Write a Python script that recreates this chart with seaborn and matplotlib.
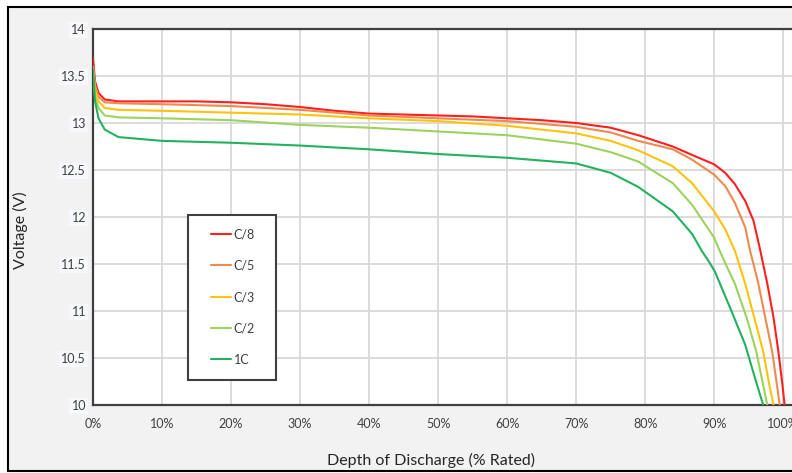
import matplotlib
matplotlib.use('Agg')
import matplotlib.pyplot as plt
import seaborn as sns
import pandas as pd
from matplotlib.patches import Rectangle

# ---- data ----
rates = ['C/8', 'C/5', 'C/3', 'C/2', '1C']
colors = ['#ff1f1f', '#ef8a4f', '#ffc20e', '#9bd35c', '#22b25f']

dod_c8 = [0, 0.3, 0.8, 1.7, 3.7, 10, 15, 20, 25, 30, 35, 40, 45, 50, 55, 60, 65, 70, 75, 79, 84, 86.8, 90, 91.6, 93, 94.5, 95.7, 96.6, 97.7, 98.6, 99.3, 99.9, 100.2]
v_c8 = [13.69, 13.44, 13.32, 13.25, 13.23, 13.23, 13.23, 13.22, 13.20, 13.17, 13.13, 13.10, 13.09, 13.08, 13.07, 13.05, 13.03, 13.00, 12.95, 12.87, 12.75, 12.66, 12.56, 12.47, 12.35, 12.17, 11.96, 11.67, 11.29, 10.93, 10.57, 10.21, 10.0]

dod_c5 = [0, 0.3, 0.8, 1.7, 3.7, 10, 20, 30, 40, 50, 60, 70, 75, 79, 84, 86.8, 90, 91.6, 93, 94.5, 95.2, 95.7, 96.4, 97.4, 98.4, 99.1, 99.5]
v_c5 = [13.60, 13.40, 13.28, 13.22, 13.21, 13.20, 13.18, 13.14, 13.08, 13.05, 13.02, 12.96, 12.90, 12.81, 12.72, 12.61, 12.45, 12.33, 12.15, 11.89, 11.64, 11.50, 11.29, 10.93, 10.57, 10.21, 10.0]

dod_c3 = [0, 0.3, 0.8, 1.7, 3.7, 10, 20, 30, 40, 50, 60, 70, 75, 79, 84, 86.8, 90, 91.6, 93, 94.5, 95.8, 97.1, 98.0, 98.6]
v_c3 = [13.58, 13.35, 13.23, 13.16, 13.14, 13.13, 13.11, 13.09, 13.05, 13.02, 12.97, 12.89, 12.81, 12.71, 12.54, 12.36, 12.06, 11.87, 11.64, 11.29, 10.93, 10.57, 10.21, 10.0]

dod_c2 = [0, 0.3, 0.8, 1.7, 3.7, 10, 20, 30, 40, 50, 60, 70, 75, 79, 84, 86.8, 90, 90.8, 91.6, 93, 94.7, 96.1, 97.1, 97.7]
v_c2 = [13.55, 13.28, 13.16, 13.08, 13.06, 13.05, 13.03, 12.98, 12.95, 12.91, 12.87, 12.78, 12.69, 12.59, 12.36, 12.13, 11.78, 11.64, 11.51, 11.29, 10.93, 10.57, 10.21, 10.0]

dod_1c = [0, 0.3, 0.8, 1.7, 3.7, 10, 20, 30, 40, 50, 60, 65, 70, 75, 79, 84, 86.8, 88.2, 89.2, 90.1, 92.5, 94.5, 95.9, 97.1]
v_1c = [13.57, 13.23, 13.05, 12.93, 12.85, 12.81, 12.79, 12.76, 12.72, 12.67, 12.63, 12.60, 12.57, 12.47, 12.32, 12.06, 11.82, 11.64, 11.53, 11.42, 11.00, 10.64, 10.29, 10.0]

xticks = [0, 10, 20, 30, 40, 50, 60, 70, 80, 90, 100]
xticklabels = ['0%', '10%', '20%', '30%', '40%', '50%', '60%', '70%', '80%', '90%', '100%']
yticks = [10, 10.5, 11, 11.5, 12, 12.5, 13, 13.5, 14]
yticklabels = ['10', '10.5', '11', '11.5', '12', '12.5', '13', '13.5', '14']

series = {'C/8': (dod_c8, v_c8), 'C/5': (dod_c5, v_c5), 'C/3': (dod_c3, v_c3),
          'C/2': (dod_c2, v_c2), '1C': (dod_1c, v_1c)}
rows = []
for r in rates:
    xs, ys = series[r]
    for x, y in zip(xs, ys):
        rows.append({'dod': x, 'v': y, 'rate': r})
df = pd.DataFrame(rows)

# ---- figure ----
sns.set_theme(style='white')
plt.rcParams['font.family'] = ['Lato', 'DejaVu Sans']

W, H = 792, 473
fig = plt.figure(figsize=(W / 100, H / 100), dpi=100, facecolor='white')
fig.patches.append(Rectangle((8 / W, 2 / H), 1.0, 464 / H, transform=fig.transFigure,
                             facecolor='#f2f2f2', edgecolor='black', lw=1.5, zorder=-10))

ax = fig.add_axes([93 / W, 68 / H, 704 / W, 376 / H])
ax.set_zorder(1)
ax.set_facecolor('white')

sns.lineplot(data=df, x='dod', y='v', hue='rate', hue_order=rates,
             palette=dict(zip(rates, colors)), sort=False, estimator=None,
             lw=1.5, ax=ax, zorder=3)

ax.set_xlim(0, 102)
ax.set_ylim(10, 14)
ax.set_xticks(xticks)
ax.set_xticklabels(xticklabels)
ax.set_yticks(yticks)
ax.set_yticklabels(yticklabels)
ax.grid(True, color='#d9d9d9', lw=1.3)
ax.set_axisbelow(True)
for s in ['left', 'bottom', 'top']:
    ax.spines[s].set_color('#404040')
    ax.spines[s].set_linewidth(1.6)
ax.spines['right'].set_visible(False)
ax.tick_params(axis='both', length=0, labelsize=9, colors='#404040')
ax.tick_params(axis='x', pad=9)
ax.tick_params(axis='y', pad=5)
for t in ax.get_yticklabels():
    t.set_bbox(dict(facecolor='#f6f8fb', edgecolor='none', pad=1.5))

ax.set_xlabel('Depth of Discharge (% Rated)', fontsize=11.5, color='#262626')
ax.set_ylabel('Voltage (V)', fontsize=11.5, color='#262626')
ax.xaxis.set_label_coords((431 - 93) / 704, -(460 - 405) / 376)
ax.xaxis.label.set_va('center')
ax.yaxis.set_label_coords((20 - 93) / 704, (405 - 230) / 376)
ax.yaxis.label.set_va('center')

# legend
handles, labels = ax.get_legend_handles_labels()
ax.get_legend().remove()
ax.add_patch(Rectangle((188 / W, (H - 380) / H), 88 / W, 165 / H, transform=fig.transFigure,
                       facecolor='white', edgecolor='#404040', lw=1.5, zorder=4))
leg = ax.legend(handles, labels, loc='center', bbox_to_anchor=(233 / W, (H - 297) / H),
                bbox_transform=fig.transFigure, frameon=False, fontsize=9,
                handlelength=1.6, handletextpad=0.2, labelspacing=1.55)
leg.set_zorder(5)
for t in leg.get_texts():
    t.set_color('#404040')

fig.savefig('out.png', dpi=100, facecolor='white')
